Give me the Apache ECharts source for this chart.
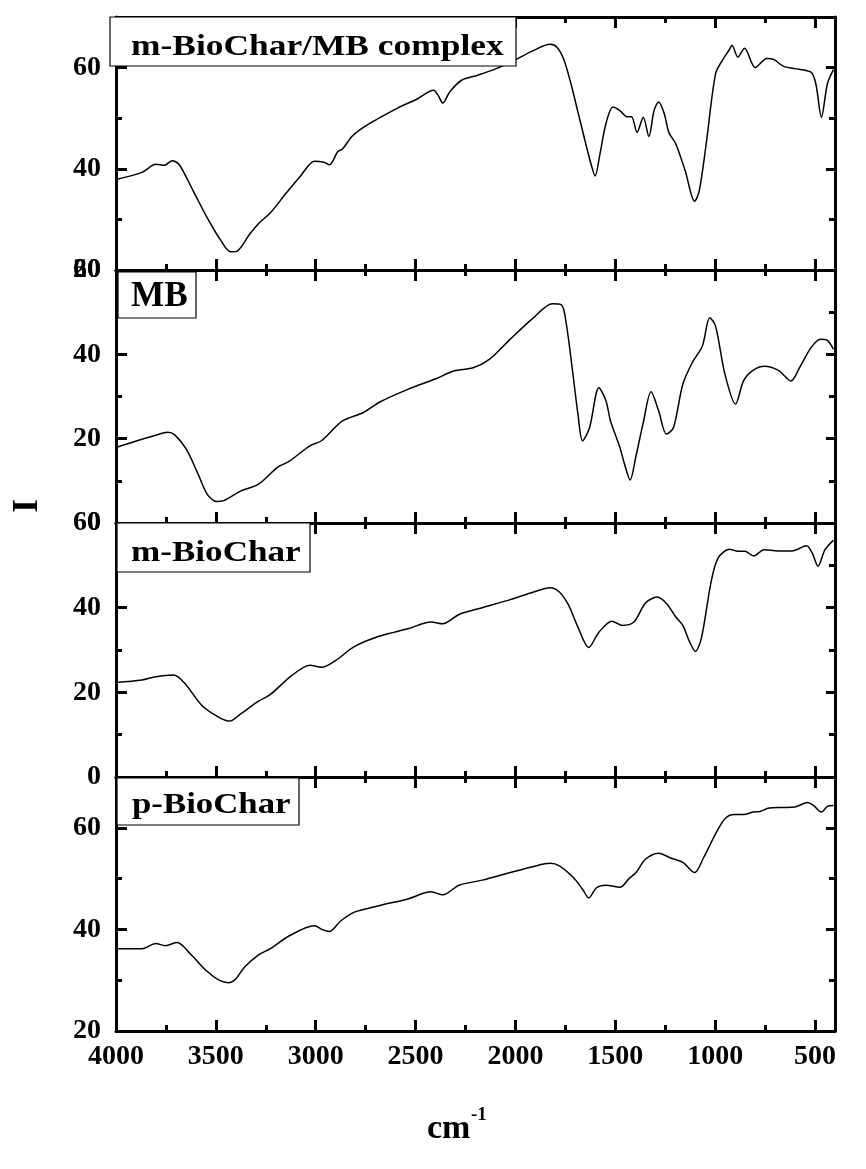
<!DOCTYPE html>
<html>
<head>
<meta charset="utf-8">
<script src="https://cdn.jsdelivr.net/npm/echarts@6/dist/echarts.min.js"></script>
<style>
html,body{margin:0;padding:0;background:#fff;}
#chart{width:866px;height:1169px;}
</style>
</head>
<body>
<div id="chart"></div>
<script>
// ---- data (wavenumber in cm^-1, intensity) ----
const panelNames = ['m-BioChar/MB complex', 'MB', 'm-BioChar', 'p-BioChar'];

const wnComplex = [4000,3870,3800,3758,3718,3683,3613,3543,3473,3426,3391,3332,3286,3227,3146,3076,3006,2959,2931,2889,2866,2819,2761,2679,2586,2492,2410,2387,2364,2329,2270,2189,2096,2002,1909,1827,1792,1757,1722,1687,1652,1624,1601,1577,1547,1512,1477,1442,1419,1391,1360,1332,1306,1283,1255,1232,1197,1150,1103,1080,1045,998,963,928,916,886,853,799,741,706,660,601,520,496,468,438,408];
const iComplex = [37.9,39.3,40.9,40.7,41.6,40.8,35.6,30.3,25.7,23.6,23.8,27.0,29.2,31.3,35.3,38.6,41.5,41.3,40.8,43.4,43.9,46.4,48.2,50.1,52.1,53.8,55.5,54.5,53.0,55.2,57.5,58.5,59.8,61.5,63.4,64.6,64.0,61.5,56.8,51.2,45.6,41.3,38.6,42.9,48.9,52.2,51.5,50.3,50.3,47.2,50.2,46.4,51.5,53.2,50.9,47.2,44.9,39.6,33.6,35.6,44.9,58.8,61.5,63.6,64.4,62.1,63.8,60.0,61.8,61.6,60.3,59.8,59.1,56.8,50.2,56.8,59.6];

const wnMB = [4000,3895,3800,3741,3706,3648,3589,3543,3496,3461,3379,3286,3192,3134,3029,2971,2866,2761,2679,2539,2399,2306,2212,2131,2026,1909,1815,1769,1745,1710,1687,1664,1629,1582,1547,1524,1477,1454,1426,1396,1360,1321,1283,1244,1209,1162,1115,1064,1027,998,951,898,858,811,753,683,620,578,520,473,438,408];
const iMB = [17.9,19.5,20.8,21.5,20.9,17.5,11.6,6.8,5.1,5.3,7.5,9.2,13.2,14.6,18.3,19.5,24.2,26.2,28.7,31.7,34.2,36.1,36.8,38.8,43.6,48.7,52.0,51.7,47.1,34.5,25.8,19.5,22.6,32.1,29.0,24.2,17.9,14.0,10.2,16.0,23.8,31.1,26.6,21.1,22.6,32.9,38.0,42.0,48.7,46.7,35.3,28.2,33.7,36.2,37.2,36.2,33.7,36.8,41.6,43.6,43.3,41.2];

const wnMBioChar = [4000,3870,3800,3711,3659,3566,3484,3430,3379,3286,3227,3122,3029,2971,2901,2807,2679,2539,2422,2364,2282,2166,2026,1909,1827,1780,1734,1687,1633,1582,1517,1466,1407,1349,1290,1244,1197,1162,1127,1099,1068,1022,986,928,895,849,807,755,685,615,543,515,485,450,408];
const iMBioChar = [22.3,22.9,23.7,24.1,22.3,16.7,14.1,13.2,14.8,17.9,19.5,23.9,26.4,25.9,27.5,30.8,33.3,35.0,36.6,36.2,38.4,40.0,41.9,43.7,44.7,43.7,40.6,35.4,30.6,34.2,36.8,35.8,36.6,41.1,42.5,41.0,37.8,35.8,31.8,29.7,33.0,45.7,51.7,53.8,53.4,53.3,52.2,53.7,53.4,53.4,54.6,53.0,49.8,53.7,55.9];

const wnPBioChar = [4000,3870,3800,3753,3694,3624,3543,3484,3437,3402,3356,3286,3227,3134,3006,2964,2931,2877,2807,2679,2539,2422,2364,2282,2166,2026,1909,1827,1780,1710,1664,1633,1594,1547,1477,1431,1396,1349,1283,1220,1162,1103,1057,998,951,904,858,811,776,729,660,601,536,508,468,438,408];
const iPBioChar = [36.2,36.2,37.2,36.8,37.4,35.0,31.7,30.0,29.5,30.2,32.6,35.0,36.2,38.7,40.7,39.9,39.6,41.6,43.4,44.7,46.0,47.4,46.8,48.7,49.7,51.2,52.4,53.0,52.5,50.2,47.9,46.2,48.2,48.7,48.3,50.0,51.2,53.8,55.0,54.0,53.2,51.2,54.2,58.8,61.8,62.6,62.6,63.1,63.2,63.9,64.0,64.1,65.0,64.4,63.1,64.2,64.4];

// ---- tick labels ----
const xMajor = [4000,3500,3000,2500,2000,1500,1000,500];
const xMinor = [3750,3250,2750,2250,1750,1250,750];
const yMajor1 = [20,40,60], yMinor1 = [30,50];
const yMajor2 = [0,20,40,60], yMinor2 = [10,30,50];
const yMajor3 = [0,20,40,60], yMinor3 = [10,30,50];
const yMajor4 = [20,40,60], yMinor4 = [30,50];

// ---- layout ----
const FONT = 'Liberation Serif';
const panels = [
  {wn: wnComplex, v: iComplex, min: 20, max: 70, major: yMajor1, minor: yMinor1, top: 17, height: 253},
  {wn: wnMB, v: iMB, min: 0, max: 60, major: yMajor2, minor: yMinor2, top: 270, height: 253},
  {wn: wnMBioChar, v: iMBioChar, min: 0, max: 60, major: yMajor3, minor: yMinor3, top: 523, height: 254},
  {wn: wnPBioChar, v: iPBioChar, min: 20, max: 70, major: yMajor4, minor: yMinor4, top: 777, height: 254}
];

const labelStyle = {color: '#000', fontFamily: FONT, fontWeight: 'bold', fontSize: 28, formatter: v => String(v)};
const lineSt = {color: '#000', width: 3};

const grids = [], xAxes = [], yAxes = [], series = [];
panels.forEach((p, gi) => {
  grids.push({left: 116, width: 719, top: p.top, height: p.height});
  const xb = {gridIndex: gi, type: 'value', min: 400, max: 4000, inverse: true, splitLine: {show: false}};
  const isLast = gi === panels.length - 1;
  xAxes.push(
    Object.assign({}, xb, {position: 'bottom', axisLine: {onZero: false, lineStyle: lineSt},
      axisTick: {inside: true, length: 11, customValues: xMajor, lineStyle: lineSt},
      axisLabel: Object.assign({show: isLast, customValues: xMajor, margin: 12}, labelStyle)}),
    Object.assign({}, xb, {position: 'bottom', axisLine: {show: false, onZero: false},
      axisTick: {inside: true, length: 6, customValues: xMinor, lineStyle: lineSt}, axisLabel: {show: false}}),
    Object.assign({}, xb, {position: 'top', axisLine: {onZero: false, lineStyle: lineSt},
      axisTick: {inside: true, length: 11, customValues: xMajor, lineStyle: lineSt}, axisLabel: {show: false}}),
    Object.assign({}, xb, {position: 'top', axisLine: {show: false, onZero: false},
      axisTick: {inside: true, length: 6, customValues: xMinor, lineStyle: lineSt}, axisLabel: {show: false}})
  );
  const yb = {gridIndex: gi, type: 'value', min: p.min, max: p.max, splitLine: {show: false}};
  yAxes.push(
    Object.assign({}, yb, {position: 'left', axisLine: {show: true, onZero: false, lineStyle: lineSt},
      axisTick: {inside: true, length: 11, customValues: p.major, lineStyle: lineSt},
      axisLabel: Object.assign({customValues: p.major, margin: 15}, labelStyle)}),
    Object.assign({}, yb, {position: 'left', axisLine: {show: false, onZero: false},
      axisTick: {inside: true, length: 6, customValues: p.minor, lineStyle: lineSt}, axisLabel: {show: false}}),
    Object.assign({}, yb, {position: 'right', axisLine: {show: true, onZero: false, lineStyle: lineSt},
      axisTick: {inside: true, length: 9, customValues: p.major, lineStyle: lineSt}, axisLabel: {show: false}}),
    Object.assign({}, yb, {position: 'right', axisLine: {show: false, onZero: false},
      axisTick: {inside: true, length: 6, customValues: p.minor, lineStyle: lineSt}, axisLabel: {show: false}})
  );
  series.push({
    type: 'line', name: panelNames[gi], xAxisIndex: gi * 4, yAxisIndex: gi * 4,
    data: p.wn.map((w, i) => [w, p.v[i]]),
    showSymbol: false, smooth: 0.3,
    lineStyle: {color: '#000', width: 1.5}, z: 3
  });
});

function txt(text, size) {
  return {text: text, fill: '#000', fontFamily: FONT, fontWeight: 'bold', fontSize: size,
    verticalAlign: 'middle', align: 'left'};
}
function box(x, y, w, h) {
  return {type: 'rect', shape: {x: x, y: y, width: w, height: h},
    style: {fill: '#fff', stroke: '#000', lineWidth: 1.2}, z: 100};
}
function label(text, x, y, size, sx) {
  return {type: 'text', x: x, y: y, scaleX: sx, z: 101, style: txt(text, size)};
}

const graphic = [
  box(110, 17, 406, 49), label(panelNames[0], 131, 47, 30, 1.18),
  box(118, 272, 78, 46), label(panelNames[1], 131, 297, 36, 0.98),
  box(117, 523, 193, 49), label(panelNames[2], 131, 553, 30, 1.17),
  box(117, 778, 182, 47), label(panelNames[3], 132, 805, 30, 1.16),
  {type: 'text', x: 28, y: 506, rotation: Math.PI / 2, z: 101,
   style: Object.assign(txt('I', 35), {align: 'center'})},
  {type: 'text', x: 427, y: 1129, z: 101, style: txt('cm', 34)},
  {type: 'text', x: 471, y: 1115, z: 101, style: txt('-1', 19)}
];

const chart = echarts.init(document.getElementById('chart'), null, {renderer: 'canvas'});
chart.setOption({
  animation: false,
  backgroundColor: '#fff',
  grid: grids,
  xAxis: xAxes,
  yAxis: yAxes,
  series: series,
  graphic: graphic
});
</script>
</body>
</html>
